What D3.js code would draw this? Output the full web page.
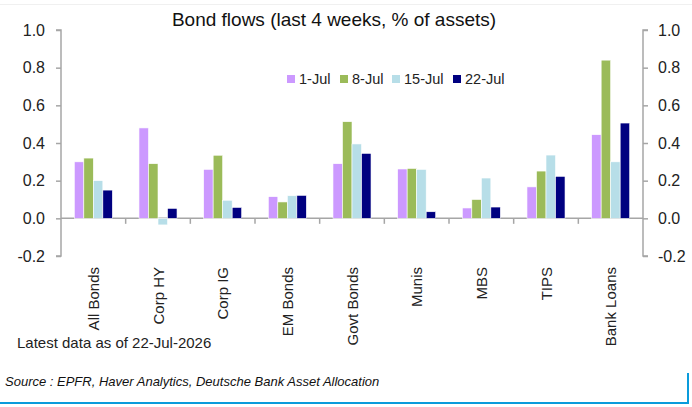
<!DOCTYPE html>
<html lang="en">
<head>
<meta charset="UTF-8">
<title>Bond flows</title>
<script src="https://cdn.jsdelivr.net/npm/d3@7"></script>
<style>
  body { margin: 0; background: #fff; }
  svg { display: block; font-family: "Liberation Sans", Arial, sans-serif; }
  .tick-label { font-size: 16px; fill: #222; }
  .cat-label { font-size: 15px; fill: #222; }
</style>
</head>
<body>
<script>
// chart data
var categories = ["All Bonds", "Corp HY", "Corp IG", "EM Bonds", "Govt Bonds", "Munis", "MBS", "TIPS", "Bank Loans"];
var seriesNames = ["1-Jul", "8-Jul", "15-Jul", "22-Jul"];
var jul1  = [0.30, 0.48, 0.26, 0.115, 0.29, 0.262, 0.055, 0.167, 0.444];
var jul8  = [0.32, 0.29, 0.335, 0.087, 0.513, 0.265, 0.10, 0.251, 0.84];
var jul15 = [0.20, -0.035, 0.096, 0.12, 0.395, 0.26, 0.214, 0.336, 0.30];
var jul22 = [0.15, 0.053, 0.058, 0.122, 0.345, 0.035, 0.06, 0.223, 0.506];
var yTicks = [-0.2, 0, 0.2, 0.4, 0.6, 0.8, 1.0];
var colors = ["#CC99FF", "#9BBB59", "#B7DEE8", "#000080"];

var seriesValues = [jul1, jul8, jul15, jul22];

var W = 692, H = 407;
var svg = d3.select("body").append("svg")
  .attr("width", W)
  .attr("height", H);

var x = d3.scaleBand().domain(categories).range([61, 643]);
var xSub = d3.scaleBand().domain(seriesNames).range([0, x.bandwidth()]).paddingOuter(1.4);
var y = d3.scaleLinear().domain([-0.2, 1.0]).range([256, 30]);

// faint top rule
svg.append("line")
  .attr("x1", 0).attr("x2", W).attr("y1", 4.5).attr("y2", 4.5)
  .attr("stroke", "#f0f0f0");

// title
svg.append("text")
  .attr("x", 334).attr("y", 26)
  .attr("text-anchor", "middle")
  .style("font-size", "19px").style("fill", "#111")
  .text("Bond flows (last 4 weeks, % of assets)");

// axes
var axisColor = "#a6a6a6";
var fmt = function(d) { return d.toFixed(1); }; // plain hyphen for negatives

var leftAxis = svg.append("g")
  .attr("transform", "translate(61,0)")
  .call(d3.axisLeft(y).tickValues(yTicks).tickFormat(fmt).tickSize(5).tickPadding(11));
var rightAxis = svg.append("g")
  .attr("transform", "translate(643,0)")
  .call(d3.axisRight(y).tickValues(yTicks).tickFormat(fmt).tickSize(5).tickPadding(10));

[leftAxis, rightAxis].forEach(function(a) {
  a.select(".domain").attr("stroke", axisColor).attr("stroke-width", 1.5);
  a.selectAll(".tick line").attr("stroke", axisColor).attr("stroke-width", 1.5);
  a.selectAll(".tick text").attr("class", "tick-label").attr("font-family", null).attr("font-size", null);
});
leftAxis.select(".domain").attr("d", "M-5," + y(1.0) + "H0V" + y(-0.2) + "H-5");
rightAxis.select(".domain").attr("d", "M5," + y(1.0) + "H0V" + y(-0.2) + "H5");

// zero line with category ticks
svg.append("line")
  .attr("x1", 61).attr("x2", 643).attr("y1", y(0)).attr("y2", y(0))
  .attr("stroke", axisColor).attr("stroke-width", 1.5);
svg.selectAll(".cat-tick")
  .data(categories.slice(1))
  .enter().append("line")
  .attr("class", "cat-tick")
  .attr("x1", function(d) { return x(d); })
  .attr("x2", function(d) { return x(d); })
  .attr("y1", y(0)).attr("y2", y(0) + 5.5)
  .attr("stroke", axisColor).attr("stroke-width", 1.5);

// bars
var groups = svg.selectAll(".series")
  .data(seriesValues)
  .enter().append("g")
  .attr("class", "series")
  .attr("fill", function(d, i) { return colors[i]; });

groups.each(function(vals, si) {
  d3.select(this).selectAll("rect")
    .data(vals)
    .enter().append("rect")
    .attr("x", function(d, ci) { return x(categories[ci]) + xSub(seriesNames[si]); })
    .attr("width", xSub.bandwidth())
    .attr("y", function(d) { return y(Math.max(0, d)); })
    .attr("height", function(d) { return Math.abs(y(d) - y(0)); })
    .attr("stroke", "#fff")
    .attr("stroke-width", 0.6);
});

// category labels
svg.selectAll(".cat-label")
  .data(categories)
  .enter().append("text")
  .attr("class", "cat-label")
  .attr("text-anchor", "end")
  .attr("transform", function(d) {
    return "translate(" + (x(d) + x.bandwidth() / 2 + 5.5) + ",267) rotate(-90)";
  })
  .text(function(d) { return d; });

// legend
var legendX = [287, 340, 392, 453];
var legend = svg.selectAll(".legend")
  .data(seriesNames)
  .enter().append("g")
  .attr("class", "legend")
  .attr("transform", function(d, i) { return "translate(" + legendX[i] + ",75)"; });
legend.append("rect")
  .attr("width", 8).attr("height", 8)
  .attr("fill", function(d, i) { return colors[i]; });
legend.append("text")
  .attr("x", 12).attr("y", 8.5)
  .style("font-size", "14.5px").style("fill", "#222")
  .text(function(d) { return d; });

// notes
svg.append("text")
  .attr("x", 17).attr("y", 348)
  .style("font-size", "15px").style("fill", "#222")
  .text("Latest data as of 22-Jul-2026");

svg.append("text")
  .attr("x", 5).attr("y", 386)
  .style("font-size", "13px").style("font-style", "italic").style("fill", "#111")
  .text("Source : EPFR, Haver Analytics, Deutsche Bank Asset Allocation");

// blue frame at bottom
svg.append("path")
  .attr("d", "M0,403H688V373")
  .attr("fill", "none")
  .attr("stroke", "#0A9BDB")
  .attr("stroke-width", 2);
</script>
</body>
</html>
